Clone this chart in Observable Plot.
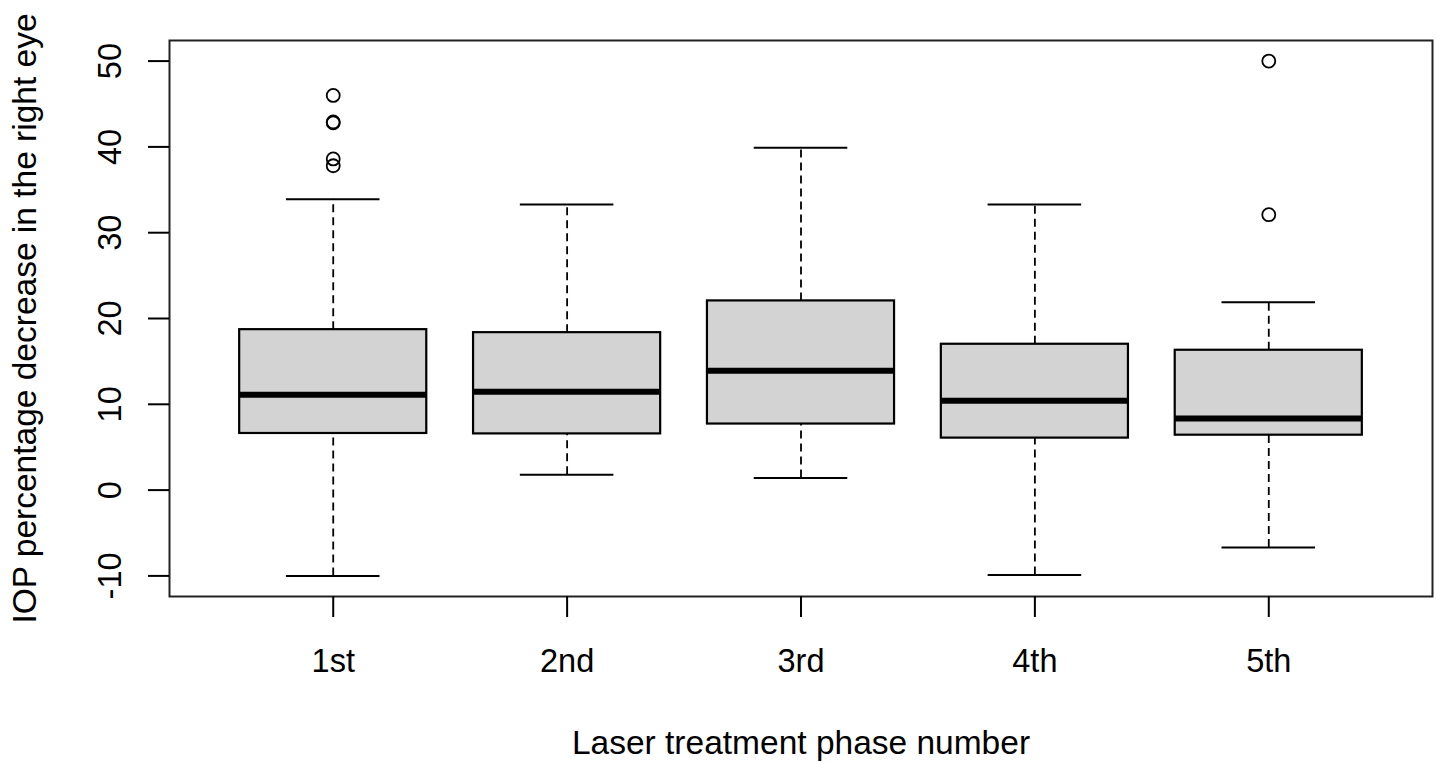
<!DOCTYPE html>
<html>
<head>
<meta charset="utf-8">
<script src="https://cdn.jsdelivr.net/npm/d3@7"></script>
<script src="https://cdn.jsdelivr.net/npm/@observablehq/plot@0.6"></script>
<style>
  html, body { margin: 0; padding: 0; background: #fff; }
</style>
</head>
<body>
<div id="chart"></div>
<script>
const phases = ["1st", "2nd", "3rd", "4th", "5th"];
const whiskerLow  = [-10.0, 1.8, 1.4, -9.9, -6.7];
const q1          = [6.6, 6.55, 7.7, 6.06, 6.4];
const medians     = [11.1, 11.45, 13.9, 10.4, 8.35];
const q3          = [18.7, 18.35, 22.05, 17.0, 16.3];
const whiskerHigh = [33.9, 33.3, 39.9, 33.3, 21.9];
const outlierPhase = ["1st", "1st", "1st", "1st", "1st", "5th", "5th"];
const outlierValue = [46.0, 42.8, 42.9, 38.6, 37.8, 50.0, 32.1];
const yTicks = [-10, 0, 10, 20, 30, 40, 50];
const xLabel = "Laser treatment phase number";
const yLabel = "IOP percentage decrease in the right eye";

const stats = phases.map((p, i) => ({
  pos: i + 1, lo: whiskerLow[i], q1: q1[i], med: medians[i], q3: q3[i], hi: whiskerHigh[i]
}));
const outliers = outlierPhase.map((p, i) => ({pos: phases.indexOf(p) + 1, v: outlierValue[i]}));

const boxHalf = 0.4, capHalf = 0.2;

const chart = Plot.plot({
  width: 1437,
  height: 763,
  marginLeft: 169,
  marginRight: 5,
  marginTop: 40,
  marginBottom: 167,
  style: {fontFamily: "'Liberation Sans', Arial, sans-serif", fontSize: "32.5px", color: "black", background: "white"},
  x: {type: "linear", domain: [0.3, 5.7]},
  y: {type: "linear", domain: [-12.4, 52.4]},
  marks: [
    // whiskers (dashed)
    Plot.ruleX(stats, {x: "pos", y1: "q3", y2: "hi", stroke: "black", strokeWidth: 1.8, strokeDasharray: "8,5"}),
    Plot.ruleX(stats, {x: "pos", y1: "lo", y2: "q1", stroke: "black", strokeWidth: 1.8, strokeDasharray: "8,5"}),
    // staples
    Plot.ruleY(stats, {y: "hi", x1: d => d.pos - capHalf, x2: d => d.pos + capHalf, stroke: "black", strokeWidth: 2}),
    Plot.ruleY(stats, {y: "lo", x1: d => d.pos - capHalf, x2: d => d.pos + capHalf, stroke: "black", strokeWidth: 2}),
    // boxes
    Plot.rect(stats, {x1: d => d.pos - boxHalf, x2: d => d.pos + boxHalf, y1: "q1", y2: "q3", fill: "#d3d3d3", stroke: "black", strokeWidth: 2.2}),
    // medians
    Plot.ruleY(stats, {y: "med", x1: d => d.pos - boxHalf, x2: d => d.pos + boxHalf, stroke: "black", strokeWidth: 6}),
    // outliers
    Plot.dot(outliers, {x: "pos", y: "v", r: 6.5, stroke: "black", strokeWidth: 1.8, fill: "none"}),
    Plot.frame({stroke: "#222", strokeWidth: 2}),
    Plot.axisY({ticks: yTicks, tickSize: 21, tickPadding: 28, tickRotate: -90, tickFormat: d => String(d), label: null, strokeWidth: 2, fill: "black"}),
    Plot.axisX({ticks: [1, 2, 3, 4, 5], tickSize: 21, tickPadding: 31, tickFormat: d => phases[d - 1], label: null, strokeWidth: 2, fill: "black"}),
    Plot.text([xLabel], {frameAnchor: "bottom", dy: 157, lineAnchor: "bottom", textAnchor: "middle", text: d => d, fill: "black", fontSize: 33.5}),
    Plot.text([yLabel], {frameAnchor: "left", dx: -134, rotate: -90, lineAnchor: "bottom", textAnchor: "middle", text: d => d, fill: "black", fontSize: 33.5})
  ]
});
document.getElementById("chart").appendChild(chart);
</script>
</body>
</html>
